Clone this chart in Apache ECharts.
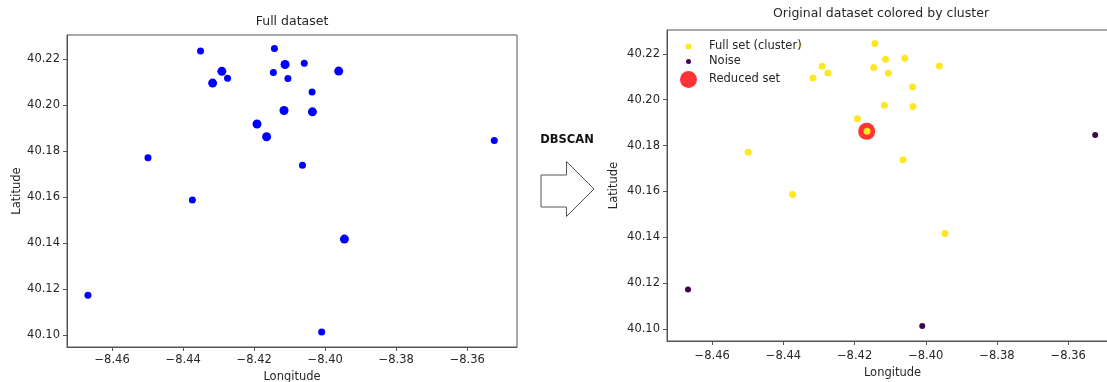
<!DOCTYPE html>
<html>
<head>
<meta charset="utf-8">
<script src="https://cdn.jsdelivr.net/npm/echarts@6/dist/echarts.min.js"></script>
<style>
html,body{margin:0;padding:0;background:#fff;}
#chart{width:1107px;height:382px;}
</style>
</head>
<body>
<div id="chart"></div>
<script>
// ---- data ----
// clustered records: longitude, latitude, number of overlapping records
const clusterLon = [-8.4351, -8.4143, -8.4113, -8.4291, -8.4146, -8.4275, -8.4105, -8.4317, -8.4059, -8.3962, -8.4037, -8.4116, -8.4036, -8.4192, -8.4165, -8.4499, -8.4064, -8.4374, -8.3946];
const clusterLat = [40.2235, 40.2245, 40.2176, 40.2146, 40.2141, 40.2116, 40.2115, 40.2095, 40.2181, 40.2147, 40.2056, 40.1976, 40.1970, 40.1917, 40.1862, 40.1771, 40.1738, 40.1587, 40.1417];
const clusterCount = [1, 1, 2, 2, 1, 1, 1, 2, 1, 2, 1, 2, 2, 2, 2, 1, 1, 1, 2];
// noise records
const noiseLon = [-8.4668, -8.4010, -8.3524];
const noiseLat = [40.1173, 40.1013, 40.1846];
// reduced set
const reducedLon = [-8.4166];
const reducedLat = [40.1862];
// axis ticks
const lonTicks = [-8.46, -8.44, -8.42, -8.40, -8.38, -8.36];
const latTicks = [40.10, 40.12, 40.14, 40.16, 40.18, 40.20, 40.22];
const lonRange = [-8.4727, -8.3460];
const latRange = [40.0948, 40.2304];
const titles = ['Full dataset', 'Original dataset colored by cluster'];
const legendNames = ['Full set (cluster)', 'Noise', 'Reduced set'];

// ---- build ----
const FONT = 'DejaVu Sans';
const TXT = '#262626';
const AX = '#555';
const fullData = clusterLon.map((x, i) => [x, clusterLat[i], clusterCount[i]])
  .concat(noiseLon.map((x, i) => [x, noiseLat[i], 1]));
const clusterData = clusterLon.map((x, i) => [x, clusterLat[i]]);
const noiseData = noiseLon.map((x, i) => [x, noiseLat[i]]);
const reducedData = reducedLon.map((x, i) => [x, reducedLat[i]]);

const fmtLon = v => (v < 0 ? '\u2212' : '') + Math.abs(v).toFixed(2);
const fmtLat = v => v.toFixed(2);

function xAx(g, gap, margin) {
  return {
    type: 'value', gridIndex: g, min: lonRange[0], max: lonRange[1],
    name: 'Longitude', nameLocation: 'middle', nameGap: gap,
    nameTextStyle: { fontFamily: FONT, fontSize: 11.5, color: TXT },
    axisLine: { show: true, lineStyle: { color: AX, width: 1 } },
    axisTick: { show: true, length: 4, lineStyle: { color: AX }, customValues: lonTicks },
    axisLabel: { fontFamily: FONT, fontSize: 11.5, color: TXT, margin: margin, customValues: lonTicks, formatter: fmtLon },
    splitLine: { show: false }
  };
}
function yAx(g, gap) {
  return {
    type: 'value', gridIndex: g, min: latRange[0], max: latRange[1],
    name: 'Latitude', nameLocation: 'middle', nameGap: gap,
    nameTextStyle: { fontFamily: FONT, fontSize: 11.5, color: TXT },
    axisLine: { show: true, lineStyle: { color: AX, width: 1 } },
    axisTick: { show: true, length: 4, lineStyle: { color: AX }, customValues: latTicks },
    axisLabel: { fontFamily: FONT, fontSize: 11.5, color: TXT, margin: 7, customValues: latTicks, formatter: fmtLat },
    splitLine: { show: false }
  };
}

// legend rows: icon centred at x=688.5, text starting at x=709
function legendAt(name, centerY, h) {
  return {
    data: [name], orient: 'vertical', left: 688.5 - h / 2, top: centerY - Math.max(h, 14) / 2, padding: 0,
    itemWidth: h, itemHeight: h, icon: 'circle', z: 20,
    textStyle: { fontFamily: FONT, fontSize: 11.5, color: TXT, padding: [0, 0, 0, 15.5 - h / 2] },
    selectedMode: false
  };
}

const chart = echarts.init(document.getElementById('chart'), null, { renderer: 'canvas' });
chart.setOption({
  animation: false,
  backgroundColor: '#fff',
  grid: [
    { left: 67, top: 35, width: 450, height: 312, outerBoundsMode: 'none', show: true, borderColor: AX, borderWidth: 1, backgroundColor: 'transparent' },
    { left: 667, top: 30, width: 451, height: 311, outerBoundsMode: 'none', show: true, borderColor: AX, borderWidth: 1, backgroundColor: 'transparent' }
  ],
  xAxis: [xAx(0, 20, 7), xAx(1, 23, 9)],
  yAxis: [yAx(0, 42), yAx(1, 47)],
  legend: [
    legendAt(legendNames[0], 47.5, 6),
    legendAt(legendNames[1], 62.5, 5),
    legendAt(legendNames[2], 79.5, 17)
  ],
  graphic: [
    { type: 'rect', z: 10, shape: { x: 676, y: 35, width: 131, height: 55 }, style: { fill: 'rgba(255,255,255,0.8)' } },
    { type: 'text', style: { x: 292, y: 22, text: titles[0], textAlign: 'center', textVerticalAlign: 'middle', fontFamily: FONT, fontSize: 12.5, fill: TXT } },
    { type: 'text', style: { x: 881, y: 14, text: titles[1], textAlign: 'center', textVerticalAlign: 'middle', fontFamily: FONT, fontSize: 12.5, fill: TXT } },
    { type: 'text', style: { x: 567, y: 140, text: 'DBSCAN', textAlign: 'center', textVerticalAlign: 'middle', fontFamily: FONT, fontWeight: 'bold', fontSize: 11.5, fill: '#111' } },
    { type: 'polygon', shape: { points: [[541, 175], [566.5, 175], [566.5, 161.5], [594, 189], [566.5, 216.5], [566.5, 207], [541, 207]] }, style: { fill: '#fff', stroke: '#555', lineWidth: 1 } }
  ],
  series: [
    {
      name: 'Full dataset', type: 'scatter', xAxisIndex: 0, yAxisIndex: 0,
      data: fullData, symbol: 'circle',
      symbolSize: d => (d[2] > 1 ? 9 : 7),
      itemStyle: { color: '#0000ff', opacity: 1 }, z: 2
    },
    {
      name: legendNames[2], type: 'scatter', xAxisIndex: 1, yAxisIndex: 1,
      data: reducedData, symbol: 'circle', symbolSize: 17,
      itemStyle: { color: 'rgba(255,0,0,0.8)', opacity: 1 }, z: 2
    },
    {
      name: legendNames[0], type: 'scatter', xAxisIndex: 1, yAxisIndex: 1,
      data: clusterData, symbol: 'circle', symbolSize: 7,
      itemStyle: { color: '#fde725', opacity: 1 }, z: 3
    },
    {
      name: legendNames[1], type: 'scatter', xAxisIndex: 1, yAxisIndex: 1,
      data: noiseData, symbol: 'circle', symbolSize: 6,
      itemStyle: { color: '#440154', opacity: 1 }, z: 3
    }
  ]
});
</script>
</body>
</html>
